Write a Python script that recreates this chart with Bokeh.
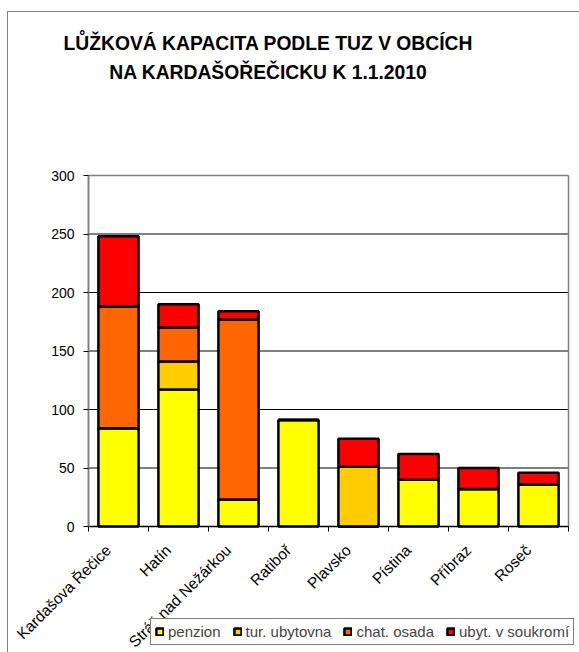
from bokeh.plotting import figure
from bokeh.models import (ColumnDataSource, FixedTicker, Legend, LegendItem, Range1d, Div,
                          LinearAxis)
from bokeh.layouts import column
from bokeh.embed import file_html
from bokeh.resources import INLINE

obce = ["Kardašova Řečice", "Hatín", "Stráž nad Nežárkou", "Ratiboř",
        "Plavsko", "Pístina", "Příbraz", "Roseč"]
penzion = [84, 117, 23, 91, 0, 40, 32, 36]
tur_ubytovna = [0, 24, 0, 0, 51, 0, 0, 0]
chat_osada = [104, 29, 154, 0, 0, 0, 0, 0]
ubyt_soukromi = [60, 20, 7, 0, 24, 22, 18, 10]
serie = ["penzion", "tur. ubytovna", "chat. osada", "ubyt. v soukromí"]
barvy = ["#FFFF00", "#FFCC00", "#FF6600", "#FF0000"]
y_ticks = [0, 50, 100, 150, 200, 250, 300]
nadpis = ["LŮŽKOVÁ KAPACITA PODLE TUZ V OBCÍCH", "NA KARDAŠOŘEČICKU K 1.1.2010"]

N = len(obce)
Y_MAX = 300
PX_PER_UNIT = 351 / Y_MAX          # plot area 351 px tall for 0..300
PX_PER_CAT = 60                    # plot area 480 px wide for 8 categories
BELOW_PX = 126                     # room under the value axis for labels + legend
ABOVE_PX = 10                      # room above the plot area for the top tick label
LEFT_PX = 80                       # room left of the category axis for value labels
RIGHT_PX = 11                      # room right of the plot area (legend runs into it)

pos = [i + 0.5 for i in range(N)]
label_pos = [x - 0.17 for x in pos]
src = ColumnDataSource(dict(x=pos, s0=penzion, s1=tur_ubytovna, s2=chat_osada, s3=ubyt_soukromi))
grid_src = ColumnDataSource(dict(y=y_ticks[1:-1], x0=[0] * 5, x1=[N] * 5))
top_src = ColumnDataSource(dict(y=[Y_MAX], x0=[0], x1=[N]))
right_src = ColumnDataSource(dict(x=[N], y0=[0], y1=[Y_MAX]))

p = figure(width=571, height=540, output_backend="svg", toolbar_location=None,
           x_range=Range1d(-LEFT_PX / PX_PER_CAT, N + RIGHT_PX / PX_PER_CAT),
           y_range=Range1d(-BELOW_PX / PX_PER_UNIT, Y_MAX + ABOVE_PX / PX_PER_UNIT),
           min_border_left=0, min_border_right=0, min_border_top=63 - ABOVE_PX,
           min_border_bottom=0, x_axis_location=None, y_axis_location=None)
p.frame_width = LEFT_PX + PX_PER_CAT * N + RIGHT_PX
p.frame_height = 351 + BELOW_PX + ABOVE_PX

p.xgrid.visible = False
p.ygrid.visible = False
p.segment(x0="x0", x1="x1", y0="y", y1="y", source=grid_src, line_color="black", line_width=1)
p.segment(x0="x0", x1="x1", y0="y", y1="y", source=top_src, line_color="#808080",
          line_width=1.5)
p.segment(x0="x", x1="x", y0="y0", y1="y1", source=right_src, line_color="#808080",
          line_width=1.5)

rs = p.vbar_stack(["s0", "s1", "s2", "s3"], x="x", width=0.67, source=src,
                  color=barvy, line_color="black", line_width=2.5)
for r, c in zip(rs, barvy):
    r.glyph.fill_color = c
    r.glyph.line_color = "black"

p.outline_line_color = None
p.background_fill_color = "white"
p.border_fill_color = "white"

# category axis, drawn at value 0
xax = LinearAxis(fixed_location=0, bounds=(0, N))
xax.ticker = FixedTicker(ticks=label_pos, minor_ticks=list(range(N + 1)))
xax.major_label_overrides = {x: n for x, n in zip(label_pos, obce)}
xax.major_label_orientation = 0.785398
xax.major_tick_out = 0
xax.major_tick_in = 0
xax.minor_tick_out = 5
xax.minor_tick_in = 0
xax.minor_tick_line_color = "black"
xax.axis_line_color = "black"
xax.axis_line_width = 1.5
xax.major_label_text_font = "Liberation Sans"
xax.major_label_text_font_size = "15.5px"
xax.major_label_text_color = "black"
xax.major_label_standoff = 16
p.add_layout(xax, "below")

# value axis, drawn at the first category edge
yax = LinearAxis(fixed_location=0, bounds=(0, Y_MAX))
yax.ticker = FixedTicker(ticks=y_ticks, minor_ticks=[])
yax.major_tick_out = 5
yax.major_tick_in = 0
yax.major_tick_line_color = "black"
yax.axis_line_color = "#808080"
yax.axis_line_width = 2
yax.major_label_text_font = "Liberation Sans"
yax.major_label_text_font_size = "14px"
yax.major_label_text_color = "black"
yax.major_label_standoff = 9
p.add_layout(yax, "left")

legend = Legend(items=[LegendItem(label=s, renderers=[r]) for s, r in zip(serie, rs)],
                orientation="horizontal", location=(142, 7),
                label_text_font="Liberation Sans", label_text_font_size="15px",
                glyph_width=9, glyph_height=9, label_standoff=4, spacing=12,
                padding=4, margin=0, border_line_color="black", border_line_width=1,
                label_height=17, background_fill_color="white", background_fill_alpha=1)
p.add_layout(legend, "center")

title = Div(text="<div style=\"width:520px; text-align:center; font-family:'Liberation Sans'; "
                 "font-weight:bold; font-size:19.3px; line-height:29px; padding-top:17px; "
                 "color:black;\">" + nadpis[0] + "<br>" + nadpis[1] + "</div>",
            width=520, height=100, margin=0)

layout = column(title, p, margin=(11, 0, 0, 7), spacing=0,
                styles={"border-left": "1px solid #808080", "border-top": "1px solid #808080"})

open("out.html", "w").write(file_html(layout, INLINE))
